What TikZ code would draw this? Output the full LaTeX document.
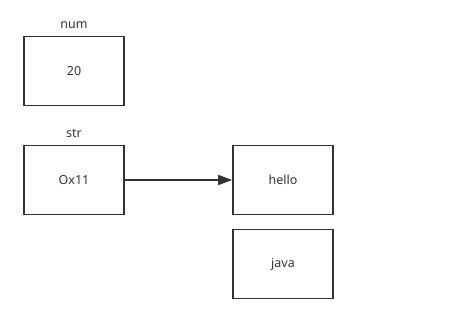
\documentclass[tikz,border=0pt]{standalone}
\usepackage{fontspec}
\setmainfont{Noto Sans}
\usetikzlibrary{arrows.meta}
\definecolor{ink}{HTML}{333333}

\begin{document}
\begin{tikzpicture}[x=1pt,y=-1pt,
		cell/.style={draw=ink,line width=1.6pt,minimum width=100pt,minimum height=69pt,text=ink,font=\fontsize{12.5}{14}\selectfont},
		every label/.style={text=ink,font=\fontsize{12.5}{14}\selectfont,inner sep=0pt,label distance=6.5pt}]
			\useasboundingbox (0,0) rectangle (464,332);
			\node (num)[cell,label=above:{num}] at (74,71) {20};
			\node (str)[cell,label=above:{str}] at (74,180) {Ox11};
			\node (hello)[cell] at (283,180) {hello};
			\node (java)[cell] at (283,264) {java};
			
			\draw[-{Triangle[length=14pt,width=10pt]},ink,line width=1.5pt]
			(str)--(hello);
		\end{tikzpicture}
\end{document}
